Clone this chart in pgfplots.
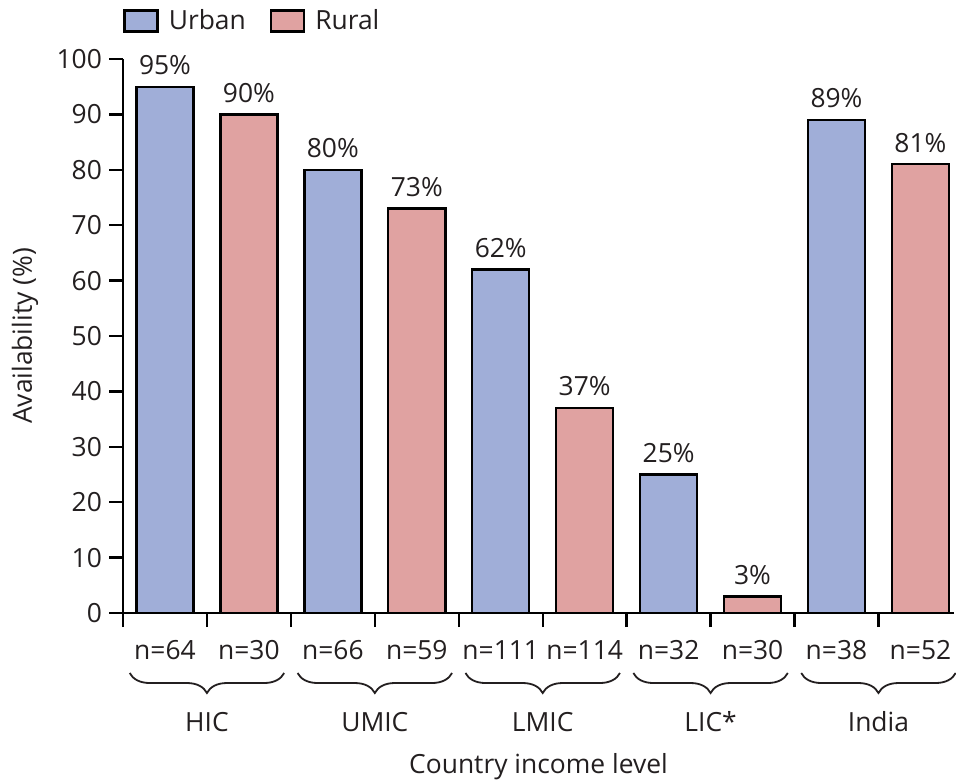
\documentclass[border=0pt]{standalone}
\usepackage{fontspec}
\setmainfont{Open Sans}
\usepackage{pgfplots}
\pgfplotsset{compat=1.18}
\usetikzlibrary{decorations.pathreplacing}
\definecolor{urb}{RGB}{160,174,216}
\definecolor{rur}{RGB}{224,162,161}
\definecolor{txt}{RGB}{35,31,32}
\begin{document}
\begin{tikzpicture}[font=\fontsize{13.2}{15}\selectfont]
\useasboundingbox (-61.5pt,-85pt) rectangle (416.5pt,306.5pt);
\begin{axis}[
  at={(0,0)}, anchor=south west,
  scale only axis, width=415.5pt, height=277pt,
  font=\fontsize{13.2}{15}\selectfont,
  /pgf/number format/assume math mode=true,
  xmin=-0.5, xmax=9.4, ymin=0, ymax=100,
  axis x line=bottom, axis y line=left,
  axis line style={-, line width=1.2pt, black},
  ytick={0,10,...,100},
  xtick={-0.5,0.5,...,8.5}, xticklabels={},
  tick align=outside, major tick length=7pt,
  tick style={line width=1.2pt, black},
  tick label style={text=txt},
  ybar,
  clip=false,
  nodes near coords={\pgfmathprintnumber{\pgfplotspointmeta}\%},
  every node near coord/.append style={text=txt, font=\fontsize{13.2}{15}\selectfont, yshift=2pt},
  ylabel={Availability (\%)},
  every axis y label/.style={at={(axis description cs:-0.118,0.5)}, rotate=90, anchor=center, text=txt},
  xlabel={Country income level},
  every axis x label/.style={at={(axis description cs:0.5,-0.278)}, anchor=center, text=txt},
  legend columns=2,
  legend style={draw=none, fill=none, at={(axis description cs:0,1)}, anchor=south west, inner sep=0pt, yshift=11pt, text=txt,
    /tikz/every odd column/.append style={column sep=3pt},
    /tikz/every even column/.append style={column sep=10pt}},
  mylegend/.style={legend image code/.code={\draw[##1, line width=1.2pt] (0pt,-5.25pt) rectangle (16.5pt,5.25pt);}},
]
\addplot[ybar, bar width=0.68, bar shift=0pt, fill=urb, draw=black, line width=1.2pt, mylegend]
  coordinates {(0,95) (2,80) (4,62) (6,25) (8,89)};
\addlegendentry{Urban}
\addplot[ybar, bar width=0.68, bar shift=0pt, fill=rur, draw=black, line width=1.2pt, mylegend]
  coordinates {(1,90) (3,73) (5,37) (7,3) (9,81)};
\addlegendentry{Rural}
% sample sizes
\foreach \x/\n in {0/64,1/30,2/66,3/59,4/111,5/114,6/32,7/30,8/38,9/52} {
  \edef\tmp{\noexpand\node[text=txt, anchor=center] at ([yshift=-18.5pt]axis cs:\x,0) {n=\n};}\tmp
}
% braces and group names
\foreach \g/\lab in {0/HIC,2/UMIC,4/LMIC,6/LIC*,8/India} {
  \pgfmathsetmacro{\a}{\g-0.42}
  \pgfmathsetmacro{\b}{\g+1.42}
  \pgfmathsetmacro{\c}{\g+0.5}
  \edef\tmp{\noexpand\draw[decorate, decoration={brace, mirror, amplitude=10pt}, line width=0.9pt, txt] ([yshift=-30pt]axis cs:\a,0) -- ([yshift=-30pt]axis cs:\b,0);
  \noexpand\node[text=txt, anchor=center] at ([yshift=-54.5pt]axis cs:\c,0) {\lab};}\tmp
}
\end{axis}
\end{tikzpicture}
\end{document}
